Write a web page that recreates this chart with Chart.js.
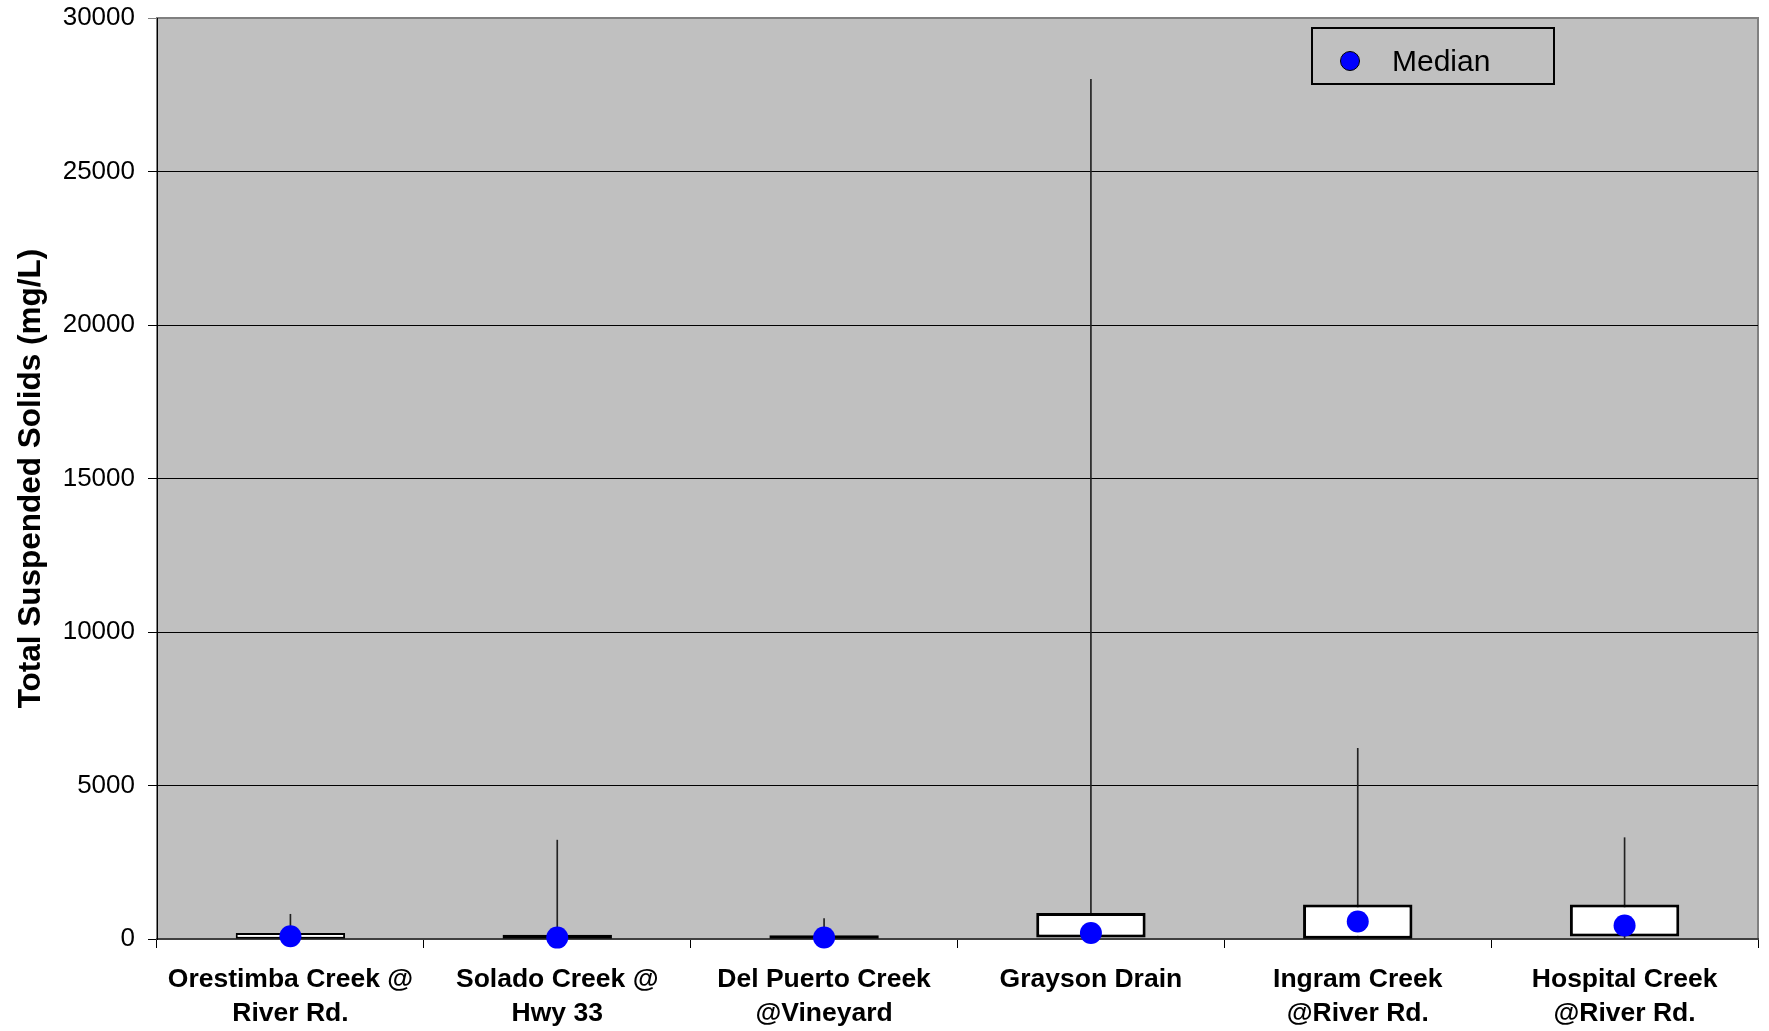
<!DOCTYPE html>
<html>
<head>
<meta charset="utf-8">
<script src="https://cdn.jsdelivr.net/npm/chart.js@4/dist/chart.umd.min.js"></script>
<style>
  body { margin: 0; background: #fff; }
  #wrap { position: relative; width: 1769px; height: 1031px; }
  #legend {
    position: absolute; left: 1311px; top: 27px; width: 240px; height: 54px;
    border: 2px solid #000; font-family: Arial, 'Liberation Sans', sans-serif;
    font-size: 30px; color: #000;
  }
  #legend .dot {
    position: absolute; left: 27px; top: 22px; width: 18px; height: 18px;
    border-radius: 50%; background: #0000ff; border: 1px solid #000;
  }
  #legend .txt { position: absolute; left: 79px; top: 15px; }
</style>
</head>
<body>
<div id="wrap">
  <canvas id="tssChart" width="1769" height="1031"></canvas>
  <div id="legend"><span class="dot"></span><span class="txt">Median</span></div>
</div>
<script>
const sites = [
  ['Orestimba Creek @', 'River Rd.'],
  ['Solado Creek @', 'Hwy 33'],
  ['Del Puerto Creek', '@Vineyard'],
  ['Grayson Drain'],
  ['Ingram Creek', '@River Rd.'],
  ['Hospital Creek', '@River Rd.']
];
const minVals = [0, 0, 0, 0, 0, 0];
const q1Vals = [10, 5, 5, 50, 10, 80];
const medianVals = [88, 45, 50, 195, 567, 437];
const q3Vals = [196, 140, 120, 848, 1120, 1120];
const maxVals = [805, 3220, 665, 28000, 6210, 3300];
const yTicks = [0, 5000, 10000, 15000, 20000, 25000, 30000];

const fontFamily = "Arial, 'Liberation Sans', sans-serif";

// gray plot area with a gray frame, like the old spreadsheet charts
const plotBg = {
  id: 'plotBg',
  beforeDraw(chart) {
    const { ctx, chartArea: a } = chart;
    ctx.save();
    ctx.fillStyle = '#c0c0c0';
    ctx.fillRect(a.left, a.top, a.right - a.left, a.bottom - a.top);
    ctx.strokeStyle = '#808080';
    ctx.lineWidth = 2;
    ctx.strokeRect(a.left, a.top, a.right - a.left, a.bottom - a.top);
    ctx.restore();
  }
};

const ctx = document.getElementById('tssChart').getContext('2d');
new Chart(ctx, {
  type: 'bar',
  data: {
    labels: sites,
    datasets: [
      {
        type: 'line',
        label: 'Median',
        data: medianVals,
        showLine: false,
        pointRadius: 11,
        pointHoverRadius: 11,
        pointBackgroundColor: '#0000ff',
        pointBorderWidth: 0,
        clip: false,
        order: 0
      },
      {
        label: 'Box',
        data: q1Vals.map((v, i) => [v, q3Vals[i]]),
        backgroundColor: '#ffffff',
        borderColor: '#000000',
        borderWidth: [2, 3, 3, 3, 3, 3],
        borderSkipped: false,
        barPercentage: 0.41,
        categoryPercentage: 1,
        grouped: false,
        order: 1
      },
      {
        label: 'Range',
        data: minVals.map((v, i) => [v, maxVals[i]]),
        backgroundColor: '#222222',
        borderWidth: 0,
        barThickness: 1,
        grouped: false,
        order: 2
      }
    ]
  },
  options: {
    responsive: false,
    animation: false,
    devicePixelRatio: 1,
    layout: { padding: { top: 18, right: 8, left: 0, bottom: 0 } },
    plugins: {
      legend: { display: false },
      tooltip: { enabled: false }
    },
    scales: {
      x: {
        offset: true,
        grid: {
          display: true,
          offset: true,
          drawOnChartArea: false,
          tickLength: 9,
          color: '#000000'
        },
        border: { display: true, color: '#404040', width: 2 },
        ticks: {
          autoSkip: false,
          maxRotation: 0,
          minRotation: 0,
          padding: 14,
          color: '#000000',
          font: { family: fontFamily, size: 26.5, weight: 'bold', lineHeight: 1.3 }
        },
        afterFit(scale) { scale.height = 92; }
      },
      y: {
        min: 0,
        max: 30000,
        afterBuildTicks(scale) { scale.ticks = yTicks.map(v => ({ value: v })); },
        grid: {
          tickLength: 9,
          lineWidth: 1,
          color: c => (c.tick && c.tick.value === 30000 ? '#808080' : '#000000')
        },
        border: { display: true, color: '#000000', width: 1 },
        ticks: {
          padding: 13,
          color: '#000000',
          font: { family: fontFamily, size: 26 },
          callback: v => String(v)
        },
        title: {
          display: true,
          text: 'Total Suspended Solids (mg/L)',
          color: '#000000',
          padding: { top: 12, bottom: 0 },
          font: { family: fontFamily, size: 31.5, weight: 'bold' }
        },
        afterFit(scale) {
          scale.width = 157;
          scale.paddingTop = 0;
          scale.paddingBottom = 0;
        }
      }
    }
  },
  plugins: [plotBg]
});
</script>
</body>
</html>
